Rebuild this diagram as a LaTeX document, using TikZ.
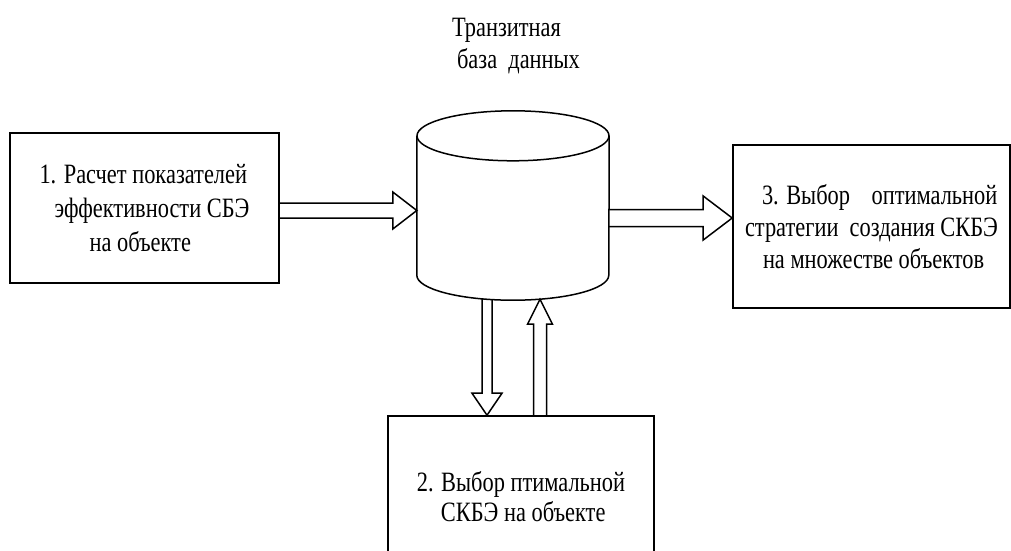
\documentclass[tikz,border=0pt]{standalone}
\usepackage{fontspec}
\setmainfont{Liberation Serif}[FakeStretch=0.8]
\usetikzlibrary{calc}

\tikzset{
  box/.style={draw, line width=1.6pt, inner sep=0pt, align=left},
  blk/.style={draw, line width=1.5pt, line join=miter},
  cyl/.style={draw, line width=1.5pt},
}

% #1 start, #2 tip, #3 shaft half width, #4 head half width, #5 head length
\newcommand\blockarrow[5]{%
  \coordinate (bac) at ($(#2)!#5!(#1)$);
  \draw[blk] ($(#1)!#3!90:(#2)$) -- ($(bac)!#3!90:(#2)$) -- ($(bac)!#4!90:(#2)$)
    -- (#2) -- ($(bac)!#4!-90:(#2)$) -- ($(bac)!#3!-90:(#2)$) -- ($(#1)!#3!-90:(#2)$);
}

\begin{document}
\begin{tikzpicture}[x=1pt,y=-1pt]
\clip (0,0) rectangle (1011,550);

\node[align=left, inner sep=0pt, font=\fontsize{28}{32}\selectfont] (title) at (516,46)
  {Транзитная\\\hspace*{5pt}база\ \ данных};

\node[box, minimum width=269pt, minimum height=150pt, font=\fontsize{28}{34}\selectfont] (b1) at (144.5,208)
  {1. Расчет показателей\\\hspace*{15pt}эффективности СБЭ\\\hspace*{50pt}на объекте};

\node[box, minimum width=277pt, minimum height=163pt, font=\fontsize{28}{32}\selectfont] (b3) at (871.5,226.5)
  {\hspace*{17pt}3. Выбор\hspace{16pt} оптимальной\\стратегии\ \ создания СКБЭ\\\hspace*{18pt}на множестве объектов};

\node[box, minimum width=266pt, minimum height=162pt, font=\fontsize{28}{30}\selectfont] (b2) at (521,497)
  {2. Выбор птимальной\\\hspace*{24pt}СКБЭ на объекте};

\node[minimum width=192pt, minimum height=189pt, inner sep=0pt] (db) at (513,205.5) {};
\draw[cyl] ($(db.north)+(0,25)$) ellipse [x radius=96pt, y radius=25pt];
\draw[cyl] ($(db.north west)+(0,25)$) -- ($(db.south west)+(0,-25)$)
  arc[start angle=180, end angle=360, x radius=96pt, y radius=25pt]
  -- ($(db.north east)+(0,25)$);

\coordinate (a1s) at ([yshift=-2.5pt]b1.east);
\coordinate (a1e) at (a1s -| db.west);
\blockarrow{a1s}{a1e}{7.5pt}{18.5pt}{24pt}

\coordinate (a2s) at ([yshift=-12.5pt]db.east);
\coordinate (a2e) at (a2s -| b3.west);
\blockarrow{a2s}{a2e}{8.5pt}{22pt}{29pt}

\coordinate (a3s) at ([xshift=-26pt,yshift=1pt]db.south);
\coordinate (a3e) at (a3s |- b2.north);
\blockarrow{a3s}{a3e}{5pt}{15pt}{22pt}

\coordinate (a4e) at ([xshift=27pt,yshift=1pt]db.south);
\coordinate (a4s) at (a4e |- b2.north);
\blockarrow{a4s}{a4e}{6.5pt}{12.5pt}{25pt}
\end{tikzpicture}
\end{document}
